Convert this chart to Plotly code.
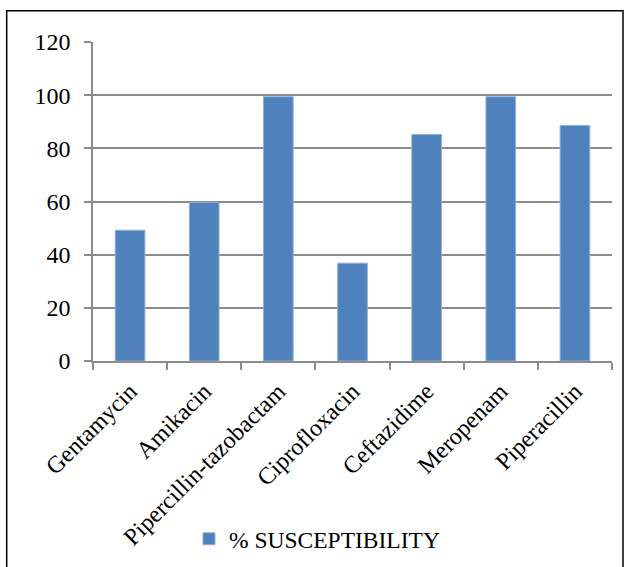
import plotly.graph_objects as go

# Antibiotic susceptibility (%)
drugs = ["Gentamycin", "Amikacin", "Pipercillin-tazobactam", "Ciprofloxacin",
         "Ceftazidime", "Meropenam", "Piperacillin"]
susceptibility = [49.2, 59.6, 99.4, 36.8, 85.2, 99.4, 88.6]
series_name = "% SUSCEPTIBILITY"
y_ticks = [0, 20, 40, 60, 80, 100, 120]

FONT = "Liberation Serif"
BAR = "#4F81BD"
GRID = "#8C8C8C"

W, H = 624, 567
L, R, T, B = 93, 12, 42, 206
pw, ph = W - L - R, H - T - B


def px_x(x):
    return (x - L) / pw


def px_y(y):
    return (H - B - y) / ph


fig = go.Figure()
fig.add_trace(go.Bar(
    x=drugs, y=susceptibility, name=series_name,
    marker=dict(color=BAR, line=dict(color="#8FB0D8", width=1)),
    showlegend=True,
))

fig.update_layout(
    width=W, height=H,
    margin=dict(l=L, r=R, t=T, b=B, autoexpand=False),
    paper_bgcolor="white", plot_bgcolor="white",
    font=dict(family=FONT, size=22, color="black"),
    bargap=0.6,
    showlegend=True,
    legend=dict(
        orientation="h", x=px_x(189), y=px_y(539), xanchor="left", yanchor="middle",
        font=dict(family=FONT, size=23.5, color="black"),
        bgcolor="rgba(0,0,0,0)", borderwidth=0,
    ),
    xaxis=dict(
        type="category", tickangle=-45, automargin=False,
        showline=True, linecolor=GRID, linewidth=1.5,
        ticks="outside", ticklen=7, tickcolor=GRID, tickwidth=1.5,
        tickson="boundaries", showgrid=False,
        ticklabelstandoff=5,
        tickfont=dict(family=FONT, size=24, color="black"),
    ),
    yaxis=dict(
        range=[0, 120], tickvals=y_ticks, automargin=False,
        showline=True, linecolor=GRID, linewidth=1.5,
        ticks="outside", ticklen=7, tickcolor=GRID, tickwidth=1.5,
        showgrid=True, gridcolor=GRID, gridwidth=1.5, zeroline=False,
        ticklabelstandoff=9,
        tickfont=dict(family=FONT, size=24, color="black"),
    ),
    shapes=[dict(
        type="rect", xref="paper", yref="paper",
        x0=px_x(6.7), x1=px_x(623), y0=px_y(10.7), y1=px_y(590),
        line=dict(color="black", width=1.5), fillcolor="rgba(0,0,0,0)",
        layer="below",
    )],
)

fig.write_html("out.html")
